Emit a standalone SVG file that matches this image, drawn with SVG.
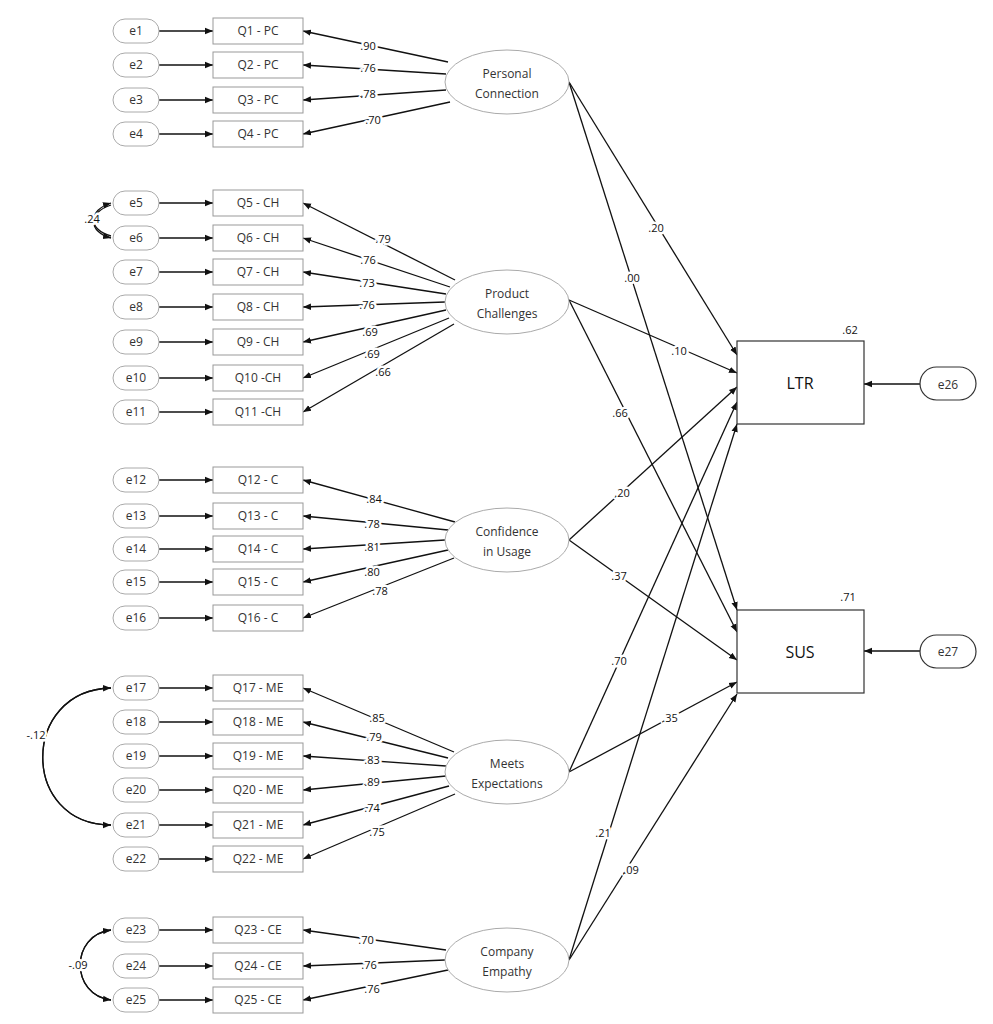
<svg xmlns="http://www.w3.org/2000/svg" width="993" height="1024" viewBox="0 0 993 1024">
<defs>
<marker id="a" viewBox="0 0 10 10" refX="10" refY="5" markerWidth="8" markerHeight="8" markerUnits="userSpaceOnUse" orient="auto"><path d="M0,1 L10,5 L0,9 z" fill="#111"/></marker>
<style>
.e{fill:#fff;stroke:#aaa;stroke-width:1}
.q{fill:#fff;stroke:#999;stroke-width:1}
.t{font-family:"Open Sans","DejaVu Sans",sans-serif;font-size:12px;fill:#333;text-anchor:middle}
.l{font-family:"Open Sans","DejaVu Sans",sans-serif;font-size:11px;fill:#111;text-anchor:middle;stroke:#fff;stroke-width:5px;paint-order:stroke;stroke-linejoin:round}
.c{stroke:#111;stroke-width:1.3;fill:none;marker-end:url(#a)}
.b{fill:#fff;stroke:#333;stroke-width:1.2}
.big{font-family:"Open Sans","DejaVu Sans",sans-serif;font-size:16px;fill:#111;text-anchor:middle}
</style>
</defs>
<rect width="993" height="1024" fill="#fff"/>
<g id="connectors">
<path class="c" d="M159 31H213"/><path class="c" d="M159 65H213"/><path class="c" d="M159 100H213"/><path class="c" d="M159 134H213"/><path class="c" d="M159 203H213"/><path class="c" d="M159 238H213"/><path class="c" d="M159 272H213"/><path class="c" d="M159 307H213"/><path class="c" d="M159 342H213"/><path class="c" d="M159 378H213"/><path class="c" d="M159 412H213"/><path class="c" d="M159 480H213"/><path class="c" d="M159 516H213"/><path class="c" d="M159 549H213"/><path class="c" d="M159 582H213"/><path class="c" d="M159 618H213"/><path class="c" d="M159 688H213"/><path class="c" d="M159 722H213"/><path class="c" d="M159 756H213"/><path class="c" d="M159 790H213"/><path class="c" d="M159 825H213"/><path class="c" d="M159 859H213"/><path class="c" d="M159 930H213"/><path class="c" d="M159 966H213"/><path class="c" d="M159 1000H213"/>
<path class="c" d="M448 62L303 31"/><path class="c" d="M446 74L303 65"/><path class="c" d="M446 90L303 100"/><path class="c" d="M450 102L303 134"/>
<path class="c" d="M455 280L303 203"/><path class="c" d="M450 287L303 238"/><path class="c" d="M446 294L303 272"/><path class="c" d="M445 302L303 307"/><path class="c" d="M446 310L303 342"/><path class="c" d="M449 318L303 378"/><path class="c" d="M454 324L303 412"/>
<path class="c" d="M455 522L303 480"/><path class="c" d="M448 530L303 516"/><path class="c" d="M445 540L303 549"/><path class="c" d="M448 550L303 582"/><path class="c" d="M454 558L303 618"/>
<path class="c" d="M454 752L303 688"/><path class="c" d="M448 758L303 722"/><path class="c" d="M446 766L303 756"/><path class="c" d="M446 776L303 790"/><path class="c" d="M449 786L303 825"/><path class="c" d="M455 794L303 859"/>
<path class="c" d="M446 950L303 930"/><path class="c" d="M445 960L303 966"/><path class="c" d="M448 970L303 1000"/>
<path class="c" d="M569 82L737 355"/><path class="c" d="M569 82L737 610"/><path class="c" d="M569 300L737 373"/><path class="c" d="M569 300L737 632"/><path class="c" d="M569 540L737 387"/><path class="c" d="M569 540L737 660"/><path class="c" d="M569 772L737 402"/><path class="c" d="M569 772L737 682"/><path class="c" d="M569 960L737 424"/><path class="c" d="M569 960L737 694"/>
<path class="c" d="M920 384H864"/><path class="c" d="M920 651H864"/>
<path class="c" d="M111 205C88 212 88 232 111 238"/><path class="c" d="M111 236C88 230 88 210 111 203"/>
<path class="c" d="M111 688C20 690 20 825 111 825"/><path class="c" d="M111 825C20 825 20 690 111 688"/>
<path class="c" d="M111 930C70 935 70 995 111 1000"/><path class="c" d="M111 1000C70 995 70 935 111 930"/>
</g>
<g id="indicators">
<g id="r1"><rect class="e" x="113" y="19" width="46" height="24" rx="12"/><text class="t" x="136" y="35">e1</text><rect class="q" x="213" y="18" width="90" height="26"/><text class="t" x="258" y="35">Q1 - PC</text></g>
<g id="r2"><rect class="e" x="113" y="53" width="46" height="24" rx="12"/><text class="t" x="136" y="69">e2</text><rect class="q" x="213" y="52" width="90" height="26"/><text class="t" x="258" y="69">Q2 - PC</text></g>
<g id="r3"><rect class="e" x="113" y="88" width="46" height="24" rx="12"/><text class="t" x="136" y="104">e3</text><rect class="q" x="213" y="87" width="90" height="26"/><text class="t" x="258" y="104">Q3 - PC</text></g>
<g id="r4"><rect class="e" x="113" y="122" width="46" height="24" rx="12"/><text class="t" x="136" y="138">e4</text><rect class="q" x="213" y="121" width="90" height="26"/><text class="t" x="258" y="138">Q4 - PC</text></g>
<g id="r5"><rect class="e" x="113" y="191" width="46" height="24" rx="12"/><text class="t" x="136" y="207">e5</text><rect class="q" x="213" y="190" width="90" height="26"/><text class="t" x="258" y="207">Q5 - CH</text></g>
<g id="r6"><rect class="e" x="113" y="226" width="46" height="24" rx="12"/><text class="t" x="136" y="242">e6</text><rect class="q" x="213" y="225" width="90" height="26"/><text class="t" x="258" y="242">Q6 - CH</text></g>
<g id="r7"><rect class="e" x="113" y="260" width="46" height="24" rx="12"/><text class="t" x="136" y="276">e7</text><rect class="q" x="213" y="259" width="90" height="26"/><text class="t" x="258" y="276">Q7 - CH</text></g>
<g id="r8"><rect class="e" x="113" y="295" width="46" height="24" rx="12"/><text class="t" x="136" y="311">e8</text><rect class="q" x="213" y="294" width="90" height="26"/><text class="t" x="258" y="311">Q8 - CH</text></g>
<g id="r9"><rect class="e" x="113" y="330" width="46" height="24" rx="12"/><text class="t" x="136" y="346">e9</text><rect class="q" x="213" y="329" width="90" height="26"/><text class="t" x="258" y="346">Q9 - CH</text></g>
<g id="r10"><rect class="e" x="113" y="366" width="46" height="24" rx="12"/><text class="t" x="136" y="382">e10</text><rect class="q" x="213" y="365" width="90" height="26"/><text class="t" x="258" y="382">Q10 -CH</text></g>
<g id="r11"><rect class="e" x="113" y="400" width="46" height="24" rx="12"/><text class="t" x="136" y="416">e11</text><rect class="q" x="213" y="399" width="90" height="26"/><text class="t" x="258" y="416">Q11 -CH</text></g>
<g id="r12"><rect class="e" x="113" y="468" width="46" height="24" rx="12"/><text class="t" x="136" y="484">e12</text><rect class="q" x="213" y="467" width="90" height="26"/><text class="t" x="258" y="484">Q12 - C</text></g>
<g id="r13"><rect class="e" x="113" y="504" width="46" height="24" rx="12"/><text class="t" x="136" y="520">e13</text><rect class="q" x="213" y="503" width="90" height="26"/><text class="t" x="258" y="520">Q13 - C</text></g>
<g id="r14"><rect class="e" x="113" y="537" width="46" height="24" rx="12"/><text class="t" x="136" y="553">e14</text><rect class="q" x="213" y="536" width="90" height="26"/><text class="t" x="258" y="553">Q14 - C</text></g>
<g id="r15"><rect class="e" x="113" y="570" width="46" height="24" rx="12"/><text class="t" x="136" y="586">e15</text><rect class="q" x="213" y="569" width="90" height="26"/><text class="t" x="258" y="586">Q15 - C</text></g>
<g id="r16"><rect class="e" x="113" y="606" width="46" height="24" rx="12"/><text class="t" x="136" y="622">e16</text><rect class="q" x="213" y="605" width="90" height="26"/><text class="t" x="258" y="622">Q16 - C</text></g>
<g id="r17"><rect class="e" x="113" y="676" width="46" height="24" rx="12"/><text class="t" x="136" y="692">e17</text><rect class="q" x="213" y="675" width="90" height="26"/><text class="t" x="258" y="692">Q17 - ME</text></g>
<g id="r18"><rect class="e" x="113" y="710" width="46" height="24" rx="12"/><text class="t" x="136" y="726">e18</text><rect class="q" x="213" y="709" width="90" height="26"/><text class="t" x="258" y="726">Q18 - ME</text></g>
<g id="r19"><rect class="e" x="113" y="744" width="46" height="24" rx="12"/><text class="t" x="136" y="760">e19</text><rect class="q" x="213" y="743" width="90" height="26"/><text class="t" x="258" y="760">Q19 - ME</text></g>
<g id="r20"><rect class="e" x="113" y="778" width="46" height="24" rx="12"/><text class="t" x="136" y="794">e20</text><rect class="q" x="213" y="777" width="90" height="26"/><text class="t" x="258" y="794">Q20 - ME</text></g>
<g id="r21"><rect class="e" x="113" y="813" width="46" height="24" rx="12"/><text class="t" x="136" y="829">e21</text><rect class="q" x="213" y="812" width="90" height="26"/><text class="t" x="258" y="829">Q21 - ME</text></g>
<g id="r22"><rect class="e" x="113" y="847" width="46" height="24" rx="12"/><text class="t" x="136" y="863">e22</text><rect class="q" x="213" y="846" width="90" height="26"/><text class="t" x="258" y="863">Q22 - ME</text></g>
<g id="r23"><rect class="e" x="113" y="918" width="46" height="24" rx="12"/><text class="t" x="136" y="934">e23</text><rect class="q" x="213" y="917" width="90" height="26"/><text class="t" x="258" y="934">Q23 - CE</text></g>
<g id="r24"><rect class="e" x="113" y="954" width="46" height="24" rx="12"/><text class="t" x="136" y="970">e24</text><rect class="q" x="213" y="953" width="90" height="26"/><text class="t" x="258" y="970">Q24 - CE</text></g>
<g id="r25"><rect class="e" x="113" y="988" width="46" height="24" rx="12"/><text class="t" x="136" y="1004">e25</text><rect class="q" x="213" y="987" width="90" height="26"/><text class="t" x="258" y="1004">Q25 - CE</text></g>
</g>
<g id="latents">
<g id="PC"><ellipse class="e" cx="507" cy="82" rx="62" ry="32"/><text class="t" x="507" y="78">Personal</text><text class="t" x="507" y="98">Connection</text></g>
<g id="PCH"><ellipse class="e" cx="507" cy="302" rx="62" ry="32"/><text class="t" x="507" y="298">Product</text><text class="t" x="507" y="318">Challenges</text></g>
<g id="CU"><ellipse class="e" cx="507" cy="540" rx="62" ry="32"/><text class="t" x="507" y="536">Confidence</text><text class="t" x="507" y="556">in Usage</text></g>
<g id="ME"><ellipse class="e" cx="507" cy="772" rx="62" ry="32"/><text class="t" x="507" y="768">Meets</text><text class="t" x="507" y="788">Expectations</text></g>
<g id="CE"><ellipse class="e" cx="507" cy="960" rx="62" ry="32"/><text class="t" x="507" y="956">Company</text><text class="t" x="507" y="976">Empathy</text></g>
</g>
<g id="outcomes">
<g id="LTR"><rect class="b" x="737" y="341" width="127" height="83"/><text class="big" x="800" y="389">LTR</text><text class="l" x="850" y="334">.62</text></g>
<g id="SUS"><rect class="b" x="737" y="610" width="127" height="83"/><text class="big" x="800" y="658">SUS</text><text class="l" x="848" y="601">.71</text></g>
<g id="e26"><rect class="b" x="920" y="367" width="56" height="33" rx="16.5"/><text class="t" x="948" y="389">e26</text></g>
<g id="e27"><rect class="b" x="920" y="635" width="56" height="33" rx="16.5"/><text class="t" x="948" y="656">e27</text></g>
</g>
<g id="labels">
<text class="l" x="368" y="50">.90</text><text class="l" x="368" y="72">.76</text><text class="l" x="368" y="98">.78</text><text class="l" x="373" y="124">.70</text>
<text class="l" x="383" y="243">.79</text><text class="l" x="368" y="264">.76</text><text class="l" x="367" y="287">.73</text><text class="l" x="367" y="309">.76</text><text class="l" x="370" y="336">.69</text><text class="l" x="372" y="358">.69</text><text class="l" x="383" y="376">.66</text>
<text class="l" x="374" y="503">.84</text><text class="l" x="372" y="528">.78</text><text class="l" x="372" y="551">.81</text><text class="l" x="372" y="576">.80</text><text class="l" x="380" y="595">.78</text>
<text class="l" x="377" y="722">.85</text><text class="l" x="374" y="741">.79</text><text class="l" x="372" y="764">.83</text><text class="l" x="372" y="786">.89</text><text class="l" x="372" y="812">.74</text><text class="l" x="377" y="836">.75</text>
<text class="l" x="366" y="944">.70</text><text class="l" x="369" y="969">.76</text><text class="l" x="372" y="993">.76</text>
<text class="l" x="92" y="223">.24</text><text class="l" x="36" y="739">-.12</text><text class="l" x="78" y="969">-.09</text>
<text class="l" x="656" y="232">.20</text><text class="l" x="632" y="282">.00</text><text class="l" x="679" y="355">.10</text><text class="l" x="620" y="417">.66</text><text class="l" x="622" y="497">.20</text><text class="l" x="619" y="580">.37</text><text class="l" x="619" y="665">.70</text><text class="l" x="670" y="722">.35</text><text class="l" x="603" y="837">.21</text><text class="l" x="631" y="874">.09</text>
</g>
</svg>
